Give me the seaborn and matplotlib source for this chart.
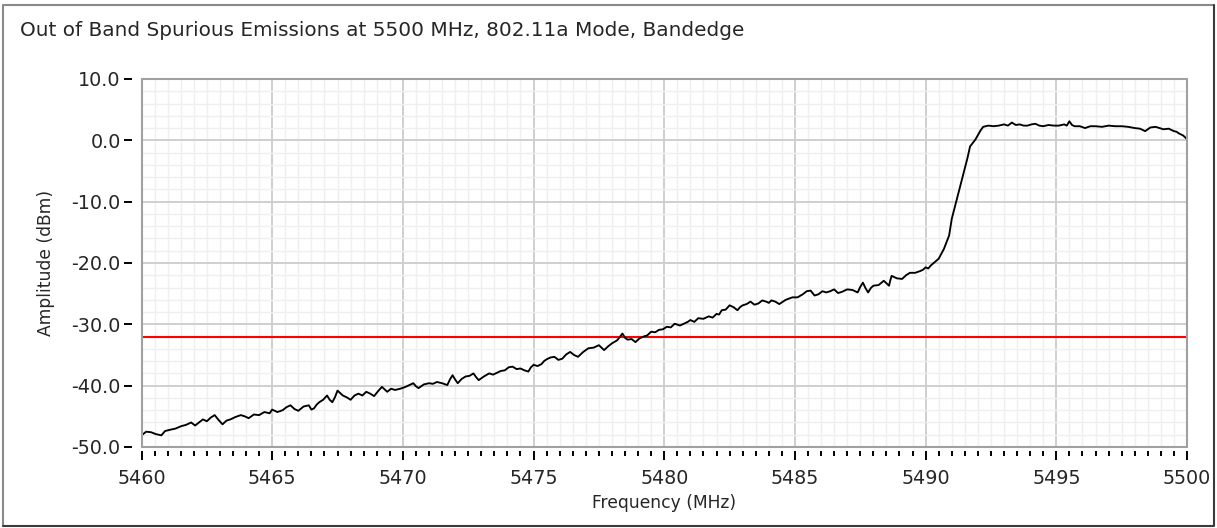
import matplotlib
matplotlib.use("Agg")
import matplotlib.pyplot as plt
from matplotlib.patches import Rectangle
from matplotlib.lines import Line2D
from matplotlib.ticker import MultipleLocator, FormatStrFormatter
import pandas as pd
import seaborn as sns

# values (MHz, dBm)
freq_mhz = [
    5460.0, 5460.18, 5460.37, 5460.55, 5460.76, 5460.9, 5461.08, 5461.3, 5461.52, 5461.7,
    5461.9, 5462.05, 5462.2, 5462.35, 5462.5, 5462.65, 5462.8, 5462.95, 5463.1, 5463.25,
    5463.4, 5463.6, 5463.8, 5463.95, 5464.1, 5464.3, 5464.5, 5464.7, 5464.9, 5465.0,
    5465.2, 5465.4, 5465.55, 5465.7, 5465.85, 5466.0, 5466.2, 5466.4, 5466.5, 5466.6,
    5466.7, 5466.8, 5466.95, 5467.1, 5467.2, 5467.3, 5467.4, 5467.5, 5467.6, 5467.7,
    5467.85, 5468.0, 5468.15, 5468.3, 5468.45, 5468.6, 5468.75, 5468.9, 5469.05, 5469.2,
    5469.3, 5469.4, 5469.55, 5469.7, 5469.9, 5470.1, 5470.25, 5470.4, 5470.5, 5470.6,
    5470.8, 5471.0, 5471.15, 5471.3, 5471.5, 5471.7, 5471.8, 5471.9, 5472.0, 5472.1,
    5472.25, 5472.4, 5472.55, 5472.7, 5472.8, 5472.9, 5473.1, 5473.3, 5473.45, 5473.6,
    5473.75, 5473.9, 5474.05, 5474.2, 5474.35, 5474.5, 5474.65, 5474.8, 5474.9, 5475.0,
    5475.15, 5475.3, 5475.4, 5475.5, 5475.65, 5475.8, 5475.95, 5476.1, 5476.25, 5476.4,
    5476.55, 5476.7, 5476.9, 5477.1, 5477.3, 5477.5, 5477.6, 5477.7, 5477.85, 5478.0,
    5478.2, 5478.4, 5478.5, 5478.6, 5478.75, 5478.9, 5479.05, 5479.2, 5479.35, 5479.5,
    5479.65, 5479.8, 5479.95, 5480.1, 5480.25, 5480.4, 5480.6, 5480.8, 5480.9, 5481.0,
    5481.15, 5481.3, 5481.5, 5481.7, 5481.85, 5482.0, 5482.1, 5482.2, 5482.35, 5482.5,
    5482.65, 5482.8, 5482.9, 5483.0, 5483.15, 5483.3, 5483.45, 5483.6, 5483.75, 5483.9,
    5484.0, 5484.1, 5484.25, 5484.4, 5484.65, 5484.9, 5485.1, 5485.3, 5485.45, 5485.6,
    5485.75, 5485.9, 5486.05, 5486.2, 5486.35, 5486.5, 5486.65, 5486.8, 5487.0, 5487.2,
    5487.3, 5487.4, 5487.5, 5487.6, 5487.7, 5487.8, 5487.9, 5488.0, 5488.2, 5488.4,
    5488.5, 5488.6, 5488.65, 5488.7, 5488.9, 5489.1, 5489.25, 5489.4, 5489.6, 5489.8,
    5489.9, 5490.0, 5490.1, 5490.2, 5490.5, 5490.7, 5490.9, 5491.0, 5491.2, 5491.4,
    5491.5, 5491.6, 5491.7, 5491.9, 5492.1, 5492.2, 5492.4, 5492.6, 5492.8, 5493.0,
    5493.15, 5493.3, 5493.45, 5493.6, 5493.75, 5493.9, 5494.05, 5494.2, 5494.35, 5494.5,
    5494.7, 5494.9, 5495.1, 5495.3, 5495.4, 5495.5, 5495.6, 5495.7, 5495.9, 5496.1,
    5496.3, 5496.5, 5496.75, 5497.0, 5497.25, 5497.5, 5497.75, 5498.0, 5498.2, 5498.4,
    5498.6, 5498.8, 5498.95, 5499.1, 5499.3, 5499.5, 5499.6, 5499.7, 5499.85, 5500.0,
]
amplitude_dbm = [
    -48.1, -47.5, -47.6, -47.9, -48.1, -47.4, -47.2, -47.0, -46.6, -46.4,
    -46.0, -46.5, -46.0, -45.5, -45.8, -45.2, -44.8, -45.6, -46.3, -45.7,
    -45.5, -45.1, -44.8, -45.0, -45.3, -44.7, -44.8, -44.3, -44.5, -43.9,
    -44.3, -44.0, -43.5, -43.2, -43.8, -44.1, -43.4, -43.2, -43.9, -43.7,
    -43.1, -42.7, -42.3, -41.6, -42.3, -42.7, -41.9, -40.8, -41.2, -41.6,
    -41.9, -42.3, -41.6, -41.3, -41.6, -41.0, -41.3, -41.7, -40.9, -40.2,
    -40.6, -41.0, -40.5, -40.7, -40.5, -40.2, -39.9, -39.6, -40.1, -40.4,
    -39.8, -39.6, -39.7, -39.4, -39.6, -39.9, -39.0, -38.3, -39.0, -39.6,
    -38.9, -38.5, -38.4, -38.0, -38.6, -39.1, -38.5, -38.0, -38.2, -37.9,
    -37.6, -37.5, -37.0, -36.9, -37.3, -37.2, -37.5, -37.7, -37.0, -36.6,
    -36.8, -36.5, -36.0, -35.7, -35.4, -35.3, -35.8, -35.6, -34.9, -34.5,
    -35.0, -35.3, -34.5, -33.9, -33.8, -33.4, -33.8, -34.2, -33.6, -33.1,
    -32.6, -31.5, -32.2, -32.5, -32.4, -32.9, -32.3, -32.0, -31.8, -31.2,
    -31.3, -30.9, -30.8, -30.4, -30.5, -29.9, -30.2, -29.8, -29.6, -29.3,
    -29.6, -29.0, -29.1, -28.7, -28.9, -28.3, -28.4, -27.7, -27.6, -26.9,
    -27.2, -27.7, -27.2, -26.9, -26.7, -26.3, -26.8, -26.6, -26.1, -26.3,
    -26.5, -26.1, -26.3, -26.7, -26.0, -25.6, -25.6, -25.1, -24.6, -24.5,
    -25.3, -25.1, -24.6, -24.8, -24.6, -24.3, -24.9, -24.7, -24.3, -24.4,
    -24.6, -24.8, -23.9, -23.2, -24.1, -24.8, -24.1, -23.7, -23.6, -22.9,
    -23.3, -23.7, -22.8, -22.1, -22.5, -22.6, -22.0, -21.6, -21.6, -21.3,
    -21.1, -20.7, -20.9, -20.4, -19.3, -17.7, -15.5, -12.8, -9.5, -6.2,
    -4.5, -2.9, -1.0, 0.1, 1.6, 2.2, 2.4, 2.3, 2.4, 2.6,
    2.4, 2.9, 2.5, 2.6, 2.4, 2.4, 2.6, 2.7, 2.4, 2.3,
    2.5, 2.4, 2.4, 2.6, 2.4, 3.1, 2.5, 2.3, 2.3, 2.0,
    2.3, 2.3, 2.2, 2.4, 2.3, 2.3, 2.2, 2.0, 1.9, 1.5,
    2.1, 2.2, 2.0, 1.8, 1.9, 1.5, 1.4, 1.1, 0.8, 0.2,
]
limit_dbm = -32.0

x_ticks = [5460, 5465, 5470, 5475, 5480, 5485, 5490, 5495, 5500]
y_ticks = [-50, -40, -30, -20, -10, 0, 10]

title = "Out of Band Spurious Emissions at 5500 MHz, 802.11a Mode, Bandedge"

df = pd.DataFrame({"Frequency (MHz)": freq_mhz, "Amplitude (dBm)": amplitude_dbm})

sns.set_style("white")
plt.rcParams["font.family"] = ["DejaVu Sans"]

W, H = 1217, 528
fig = plt.figure(figsize=(W / 100, H / 100), dpi=100)
ax = fig.add_axes([141.5 / W, 1 - 447 / H, (1187 - 141.5) / W, (447 - 79) / H])

sns.lineplot(data=df, x="Frequency (MHz)", y="Amplitude (dBm)", color="black",
             linewidth=1.35, ax=ax, zorder=5)
ax.axhline(limit_dbm, color="#ff0000", linewidth=1.5, zorder=4)

ax.set_xlim(x_ticks[0], x_ticks[-1])
ax.set_ylim(y_ticks[0], y_ticks[-1])
ax.set_xticks(x_ticks)
ax.set_yticks(y_ticks)
ax.xaxis.set_minor_locator(MultipleLocator(0.5))
ax.yaxis.set_minor_locator(MultipleLocator(2))
ax.yaxis.set_major_formatter(FormatStrFormatter("%.1f"))

ax.grid(which="major", color="#cfcfcf", linewidth=1.4)
ax.grid(which="minor", color="#efefef", linewidth=1.0)
ax.set_axisbelow(True)

# frame drawn separately so the ticks can sit outside it
for s in ax.spines.values():
    s.set_visible(False)
ax.spines["left"].set_position(("outward", 6.5))
ax.spines["bottom"].set_position(("outward", 3))
ax.add_patch(Rectangle((0, 0), 1, 1, transform=ax.transAxes, fill=False,
                       edgecolor="#a0a0a0", linewidth=1.5, clip_on=False, zorder=6))

ax.tick_params(axis="y", which="major", direction="out", length=6, width=1.4,
               color="black", pad=2.5, labelsize=13.8, left=True)
ax.tick_params(axis="x", which="major", direction="out", length=6.5, width=1.4,
               color="black", pad=6, labelsize=13.8, bottom=True)
ax.tick_params(axis="x", which="minor", direction="out", length=3.5, width=1.4,
               color="black", bottom=True)
ax.tick_params(axis="y", which="minor", left=False)

ax.set_xlabel("Frequency (MHz)", fontsize=12.3)
ax.set_ylabel("Amplitude (dBm)", fontsize=12.3)
ax.xaxis.set_label_coords(0.5, -0.128)
ax.yaxis.set_label_coords(-0.083, 0.5)

fig.text(20 / W, 1 - 30 / H, title, fontsize=14.4, ha="left", va="center")

# window border, light on top/left, dark on bottom/right
fig.add_artist(Line2D([3 / W, 3 / W, 1214 / W], [2 / H, 1 - 5 / H, 1 - 5 / H],
                      transform=fig.transFigure, color="#8a8a8a", linewidth=1.5))
fig.add_artist(Line2D([3 / W, 1214 / W, 1214 / W], [2 / H, 2 / H, 1 - 5 / H],
                      transform=fig.transFigure, color="#3a3a3a", linewidth=1.5))

fig.savefig("out.png", dpi=100)
